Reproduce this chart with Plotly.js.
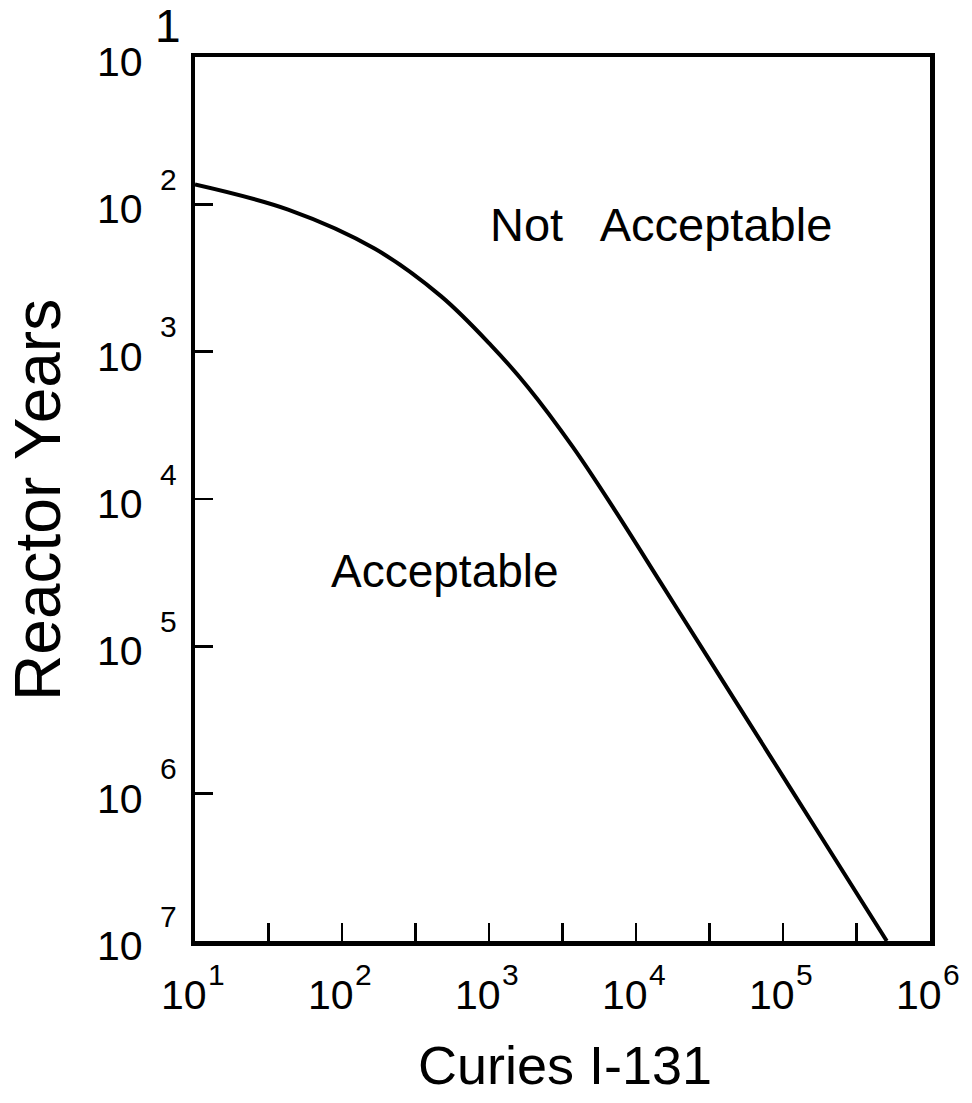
<!DOCTYPE html>
<html>
<head>
<meta charset="utf-8">
<script src="https://cdn.plot.ly/plotly-3.0.1.min.js"></script>
<style>
  html, body { margin: 0; padding: 0; background: #ffffff; }
  #chart { width: 972px; height: 1103px; }
</style>
</head>
<body>
<div id="chart"></div>
<script>
// Acceptance boundary: curies of I-131 released vs. reactor years
const curiesI131   = [10, 43, 167.5, 471, 1033, 1841, 3724, 7194, 14790, 30900, 80350, 165200, 508200];
const reactorYears = [73.3, 108.6, 200.4, 419.8, 905.7, 1742, 4446, 11940, 37240, 119400, 540800, 1690000, 1e7];

// Axis decades (powers of ten) and their exponent labels
const xDecades = [1, 2, 3, 4, 5, 6];
const xExponentLabels = ['1', '2', '3', '4', '5', '6'];
const yDecades = [1, 2, 3, 4, 5, 6, 7];
const yExponentLabels = ['1', '2', '3', '4', '5', '6', '7'];

// Tick marks: every half decade along x, every decade along y
const xTickExponents = [1, 1.5, 2, 2.5, 3, 3.5, 4, 4.5, 5, 5.5, 6];
const yTickExponents = [1, 2, 3, 4, 5, 6, 7];

const regionLabels = ['Not   Acceptable', 'Acceptable'];
const xTitle = 'Curies I-131';
const yTitle = 'Reactor Years';

const TEXT_FONT = 'Liberation Sans, Arial, sans-serif';
const DIGIT_FONT = 'Liberation Sans, Arial, sans-serif';
const INK = '#000000';

const trace = {
  x: curiesI131,
  y: reactorYears,
  type: 'scatter',
  mode: 'lines',
  line: { color: INK, width: 4, shape: 'spline', smoothing: 1 },
  hoverinfo: 'skip'
};

const annotations = [];

// x-axis labels: "10" with a raised exponent
xDecades.forEach((d, i) => {
  annotations.push({
    xref: 'x', yref: 'paper', x: d, y: 0,
    text: '10', showarrow: false,
    xanchor: 'center', yanchor: 'middle', xshift: -11, yshift: -54,
    font: { family: DIGIT_FONT, size: 41, color: INK }
  });
  annotations.push({
    xref: 'x', yref: 'paper', x: d, y: 0,
    text: xExponentLabels[i], showarrow: false,
    xanchor: 'left', yanchor: 'middle', xshift: 11, yshift: -33,
    font: { family: DIGIT_FONT, size: 30, color: INK }
  });
});

// y-axis labels: "10" with the exponent set up and to the right
yDecades.forEach((d, i) => {
  annotations.push({
    xref: 'paper', yref: 'y', x: 0, y: d,
    text: '10', showarrow: false,
    xanchor: 'center', yanchor: 'middle', xshift: -75, yshift: -5,
    font: { family: DIGIT_FONT, size: 41, color: INK }
  });
  const top = (i === 0);
  annotations.push({
    xref: 'paper', yref: 'y', x: 0, y: d,
    text: yExponentLabels[i], showarrow: false,
    xanchor: 'center', yanchor: 'middle', xshift: -27, yshift: top ? 31 : 25,
    font: { family: DIGIT_FONT, size: top ? 46 : 30, color: INK }
  });
});

// Region labels
annotations.push({
  xref: 'paper', yref: 'paper', x: 0.634, y: 0.810,
  text: regionLabels[0], showarrow: false,
  xanchor: 'center', yanchor: 'middle',
  font: { family: TEXT_FONT, size: 47, color: INK }
});
annotations.push({
  xref: 'paper', yref: 'paper', x: 0.340, y: 0.4186,
  text: regionLabels[1], showarrow: false,
  xanchor: 'center', yanchor: 'middle',
  font: { family: TEXT_FONT, size: 46, color: INK }
});

// Axis titles
annotations.push({
  xref: 'paper', yref: 'paper', x: 0.503, y: 0,
  text: xTitle, showarrow: false,
  xanchor: 'center', yanchor: 'middle', yshift: -124,
  font: { family: TEXT_FONT, size: 54, color: INK }
});
annotations.push({
  xref: 'paper', yref: 'paper', x: 0, y: 0.499,
  text: yTitle, showarrow: false, textangle: -90,
  xanchor: 'center', yanchor: 'middle', xshift: -157,
  font: { family: TEXT_FONT, size: 64, color: INK }
});

const layout = {
  width: 972,
  height: 1103,
  margin: { l: 195, r: 42, t: 57, b: 162 },
  paper_bgcolor: '#ffffff',
  plot_bgcolor: '#ffffff',
  showlegend: false,
  xaxis: {
    type: 'log',
    range: [1, 6],
    showgrid: false,
    zeroline: false,
    showline: true,
    mirror: true,
    linecolor: INK,
    linewidth: 4.5,
    ticks: 'inside',
    ticklen: 18,
    tickwidth: 2.5,
    tickcolor: INK,
    tickmode: 'array',
    tickvals: xTickExponents.map(e => Math.pow(10, e)),
    showticklabels: false
  },
  yaxis: {
    type: 'log',
    range: [7, 1],
    showgrid: false,
    zeroline: false,
    showline: true,
    mirror: true,
    linecolor: INK,
    linewidth: 4.5,
    ticks: 'inside',
    ticklen: 18,
    tickwidth: 2.5,
    tickcolor: INK,
    tickmode: 'array',
    tickvals: yTickExponents.map(e => Math.pow(10, e)),
    showticklabels: false
  },
  annotations: annotations
};

Plotly.newPlot('chart', [trace], layout, { staticPlot: true, displayModeBar: false });
</script>
</body>
</html>
